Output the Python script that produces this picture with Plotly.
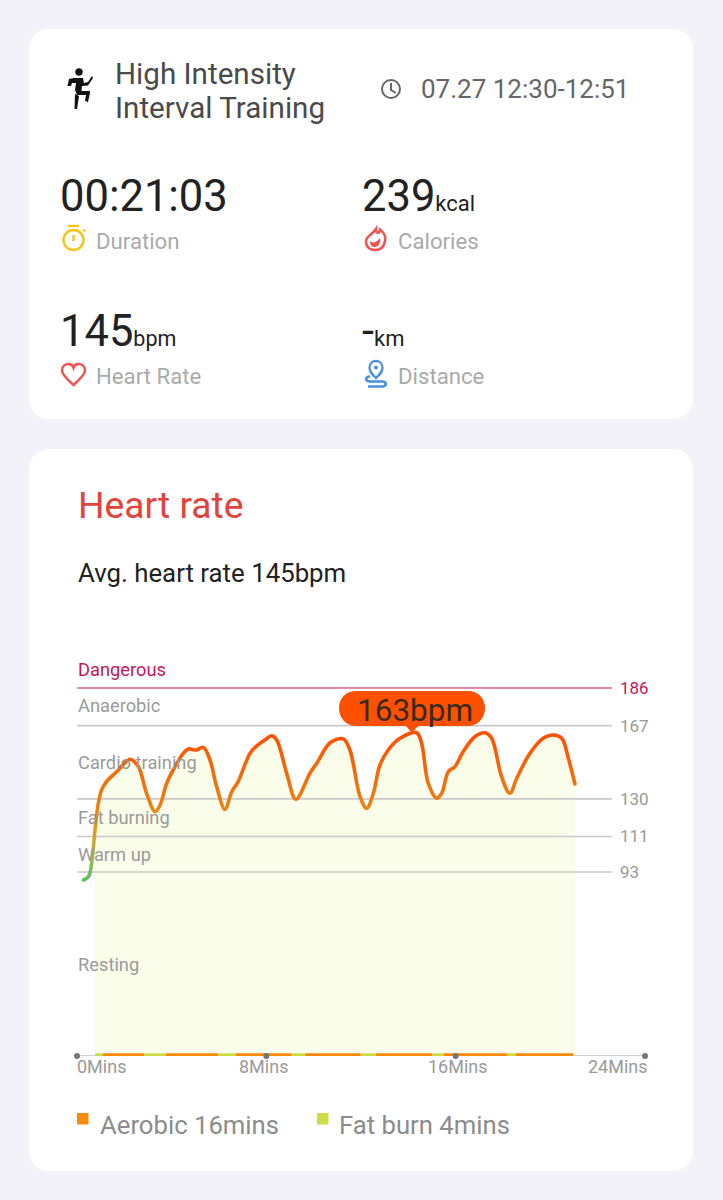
import plotly.graph_objects as go

W, H = 723, 1200

# ---- data ----
hr_minutes = [0.27, 0.48, 0.62, 0.76, 0.90, 1.04, 1.25, 1.68, 2.24, 2.59, 2.94, 3.30, 3.51, 3.79, 4.14, 4.49, 4.70, 5.03,
              5.34, 5.62, 5.90, 6.25, 6.54, 6.81, 7.31, 7.59, 7.94, 8.23, 8.44, 8.86, 9.25, 9.84, 10.13, 10.55, 10.76,
              11.25, 11.53, 11.96, 12.24, 12.52, 12.80, 13.15, 13.65, 14.35, 14.56, 14.84, 15.20, 15.41, 15.69, 15.97,
              16.32, 16.81, 17.24, 17.52, 17.94, 18.29, 18.58, 19.14, 19.70, 20.12, 20.48, 20.76, 21.04]
hr_bpm = [89, 90.6, 97.4, 114.3, 127.7, 134.5, 138.7, 143.7, 150, 146.3, 132.8, 123.5, 126.9, 137.9, 146.3, 153, 155.2,
          154.7, 156, 149.6, 136.2, 124.7, 133.6, 138.7, 153, 156.7, 159.8, 161.9, 159.8, 142.9, 129.8, 142.9, 148,
          156.4, 158.9, 160.3, 154.7, 131.1, 125.2, 132.8, 147.1, 154.7, 160.6, 163.4, 158.1, 137.9, 130.3, 132.8,
          143.7, 146.3, 153.9, 161.4, 163.4, 160.6, 141.2, 132.8, 140.4, 153, 160.6, 162.3, 160.6, 150.5, 137.5]
zone_values = [186, 167, 130, 111, 93]
zone_names = ["Dangerous", "Anaerobic", "Cardio training", "Fat burning", "Warm up", "Resting"]
zone_label_bpm = [195, 176.5, 148, 120, 101.5, 46]
x_ticks = [0, 8, 16, 24]
x_labels = ["0Mins", "8Mins", "16Mins", "24Mins"]
strip_edges = [0.77, 1.09, 2.84, 3.76, 5.97, 6.70, 9.07, 9.64, 11.99, 12.63, 15.01, 15.50, 18.19, 18.54, 20.97]
strip_kinds = ["Fat burn", "Aerobic"] * 7

# ---- styling ----
PAGE = "#f2f2f8"
DIN = "Roboto, sans-serif"
UI = "Roboto, sans-serif"
GREY = "#9a9a9a"
PINK = "#c2185b"


def px(x):
    return x / W


def py(y):
    return 1 - y / H


def pth(d):
    out = []
    for tok in d.split():
        if tok.isalpha():
            out.append(tok)
        else:
            a, b = tok.split(",")
            out.append(f"{px(float(a)):.5f},{py(float(b)):.5f}")
    return " ".join(out)


def card(x0, y0, x1, y1, r=20):
    k = r * 0.45
    d = (f"M {x0+r},{y0} L {x1-r},{y0} C {x1-k},{y0} {x1},{y0+k} {x1},{y0+r} L {x1},{y1-r} "
         f"C {x1},{y1-k} {x1-k},{y1} {x1-r},{y1} L {x0+r},{y1} C {x0+k},{y1} {x0},{y1-k} {x0},{y1-r} "
         f"L {x0},{y0+r} C {x0},{y0+k} {x0+k},{y0} {x0+r},{y0} Z")
    return dict(type="path", xref="paper", yref="paper", path=pth(d), fillcolor="white", line_width=0, layer="below")


def icon(d, fill="rgba(0,0,0,0)", stroke=None, w=2.4, layer="above"):
    return dict(type="path", xref="paper", yref="paper", path=pth(d), fillcolor=fill,
                line=dict(color=stroke or "rgba(0,0,0,0)", width=w if stroke else 0), layer=layer)


def ring(cx, cy, r):
    k = r * 0.5523
    return (f"M {cx-r},{cy} C {cx-r},{cy-k} {cx-k},{cy-r} {cx},{cy-r} C {cx+k},{cy-r} {cx+r},{cy-k} {cx+r},{cy} "
            f"C {cx+r},{cy+k} {cx+k},{cy+r} {cx},{cy+r} C {cx-k},{cy+r} {cx-r},{cy+k} {cx-r},{cy} Z")


def ann(x, y, text, size, color, anchor="left", font=UI):
    # plotly pads annotation boxes by about two pixels on the left
    return dict(xref="paper", yref="paper", x=px(x), y=py(y), text=text, showarrow=False, xanchor=anchor,
                yanchor="middle", font=dict(size=size, color=color, family=font), align="left",
                xshift=-2 if anchor == "left" else 0)


fig = go.Figure()

fig.add_trace(go.Scatter(x=hr_minutes[3:], y=hr_bpm[3:], mode="lines", line=dict(width=0, shape="spline", smoothing=1),
                         fill="tozeroy", fillcolor="#fbfdeb", hoverinfo="skip", showlegend=False))

for v in zone_values:
    fig.add_trace(go.Scatter(x=[0, 22.6], y=[v, v], mode="lines", showlegend=False,
                             line=dict(color="#e0608f" if v == 186 else "#c9c9c9", width=1.6)))

fig.add_trace(go.Scatter(x=[0, 24], y=[0, 0], mode="lines", line=dict(color="#c4c4c4", width=1.4), showlegend=False,
                         cliponaxis=False))

for i, kind in enumerate(strip_kinds):
    fig.add_trace(go.Scatter(x=strip_edges[i:i + 2], y=[0.6, 0.6], mode="lines", showlegend=False, cliponaxis=False,
                             line=dict(color="#cbdc45" if kind == "Fat burn" else "#f98a0c", width=3)))
fig.add_trace(go.Scatter(x=x_ticks, y=[0] * 4, mode="markers", marker=dict(color="#777777", size=6), showlegend=False,
                         cliponaxis=False))

fig.add_trace(go.Scatter(x=hr_minutes, y=hr_bpm, mode="lines", name="hr", showlegend=False,
                         line=dict(color="#ff6a00", width=3.6, shape="spline", smoothing=1)))

annotations = [
    ann(115, 74, "High Intensity", 29.6, "#4a4a4a"),
    ann(115, 108, "Interval Training", 29.6, "#4a4a4a"),
    ann(421, 89, "07.27 12:30-12:51", 26, "#666666"),
    ann(60, 196, "00:21:03", 43.5, "#222222"),
    ann(96, 241, "Duration", 22.2, "#aaaaaa"),
    ann(362, 196, '239<span style="font-size:22px">kcal</span>', 43.5, "#222222"),
    ann(398, 241, "Calories", 22.2, "#aaaaaa"),
    ann(60, 332, '145<span style="font-size:21.5px">bpm</span>', 43.5, "#222222"),
    ann(96, 376, "Heart Rate", 22.2, "#aaaaaa"),
    ann(362, 332, '-<span style="font-size:22px">km</span>', 43.5, "#222222"),
    ann(398, 376, "Distance", 22.2, "#aaaaaa"),
    ann(78, 505, "Heart rate", 37.2, "#e2433c"),
    ann(78, 573, "Avg. heart rate 145bpm", 25.8, "#222222"),
    ann(100, 1125, "Aerobic 16mins", 25.7, "#8c8c8c"),
    ann(339, 1125, "Fat burn 4mins", 25.7, "#8c8c8c"),
    ann(415, 710, "163bpm", 31.5, "#3a2a20", "center", DIN),
]
for name, b in zip(zone_names, zone_label_bpm):
    annotations.append(dict(xref="x", yref="y", x=0, y=b, text=name, showarrow=False, xanchor="left", yanchor="middle",
                            xshift=-1, yshift=1, font=dict(size=18.3, family=DIN, color=PINK if name == "Dangerous" else GREY)))
for v in zone_values:
    annotations.append(dict(xref="x", yref="y", x=22.9, y=v, text=str(v), showarrow=False, xanchor="left", yanchor="middle",
                            xshift=-1, font=dict(size=17, family=DIN, color=PINK if v == 186 else GREY)))
for t, lab, anc in zip(x_ticks, x_labels, ["left", "center", "center", "right"]):
    annotations.append(dict(xref="x", yref="y", x=t, y=0, text=lab, showarrow=False, xanchor=anc, yanchor="top", yshift=2,
                            xshift={0: -2, 8: -3, 16: 2, 24: 5}[t], font=dict(size=18, family=DIN, color=GREY)))

shapes = [
    card(29, 29, 693, 419),
    card(29, 449, 693, 1171),
    dict(type="path", xref="paper", yref="paper", fillcolor="#ff5000", line_width=0, layer="above",
         path=pth("M 356,691 L 468,691 C 478,691 485,698 485,708 C 485,718 478,726 468,726 L 418,726 L 412,733 L 406,726 "
                  "L 356,726 C 346,726 339,718 339,708 C 339,698 346,691 356,691 Z")),
    dict(type="rect", xref="paper", yref="paper", x0=px(77), x1=px(88.5), y0=py(1113), y1=py(1124.5),
         fillcolor="#f98a0c", line_width=0),
    dict(type="rect", xref="paper", yref="paper", x0=px(317), x1=px(328.5), y0=py(1113), y1=py(1124.5),
         fillcolor="#cbdc45", line_width=0),
    # clock
    icon(ring(391, 89, 9), stroke="#666666", w=2),
    icon("M 391,83 L 391,90 L 396,93", stroke="#666666", w=2),
    # stopwatch
    icon(ring(73.5, 240, 10), stroke="#f6c516", w=2.4),
    icon("M 68,226 L 79,226", stroke="#f6c516", w=2.4),
    icon("M 73.5,235 L 73.5,241", stroke="#f6c516", w=2.4),
    icon("M 83,229.5 L 85,231.5", stroke="#f6c516", w=2.2),
    # flame
    icon("M 376,229 C 376,234 380,234 380,229.5 C 385,233 386,238 385,241 C 384,247 380,250 375,250 C 370,250 366,247 366,241 "
         "C 366,236 372,235 376,229 Z", stroke="#ef5350", w=2.5),
    icon("M 370,241 C 373,244 377,242 380,238 C 381,243 378,247 375,247 C 372,247 370,245 370,241 Z", fill="#ef5350"),
    # heart
    icon("M 73.5,385 C 68,380 62,375 62,370.5 C 62,366 65.5,364 68.5,364 C 71,364 73,366 73.5,367.5 C 74,366 76,364 78.5,364 "
         "C 81.5,364 85,366 85,370.5 C 85,375 79,380 73.5,385 Z", stroke="#ef5350", w=2.5),
    # distance pin
    icon("M 376,378 C 372,374 369.5,372 369.5,367.5 C 369.5,363.5 372.5,361 376,361 C 379.5,361 382.5,363.5 382.5,367.5 "
         "C 382.5,372 380,374 376,378 Z", stroke="#4a90e2", w=2.3),
    icon(ring(376, 367.5, 2), fill="#4a90e2"),
    icon("M 370,376.5 C 365,376.5 365,381.5 370,381.5 L 382,381.5 C 387,381.5 387,386.5 382,386.5 L 368,386.5",
         stroke="#4a90e2", w=2.6),
    # runner
    icon(ring(79, 72, 3.8), fill="#111111"),
    icon("M 67.5,86 L 69,79 L 74,78 L 83,78 L 84,83 L 88,82 L 92,76 L 93,78 L 88,85.5 L 82,86 L 81.5,91 L 90,91 L 90,93 "
         "L 88,102 L 85,101 L 86,95 L 77,95 L 75,90 L 76,83 L 72,83 L 71,86 Z", fill="#111111"),
    icon("M 75,94 L 79,96 L 77,109 L 74.5,109 Z", fill="#111111"),
]

fig.update_layout(
    width=W, height=H, margin=dict(l=0, r=0, t=0, b=0), autosize=False, paper_bgcolor=PAGE,
    plot_bgcolor="rgba(0,0,0,0)", showlegend=False, shapes=shapes, annotations=annotations,
    xaxis=dict(domain=[77 / W, 645 / W], range=[0, 24], visible=False, fixedrange=True),
    yaxis=dict(domain=[1 - 1056 / H, 1 - 640 / H], range=[0, 210.3], visible=False, fixedrange=True),
)

post = """
document.documentElement.style.margin='0';
document.body.style.margin='0';
document.body.style.overflow='hidden';
document.body.style.background='%s';
var gd=document.getElementsByClassName('plotly-graph-div')[0];
var svg=gd.querySelector('.main-svg');
var ns='http://www.w3.org/2000/svg';
var g=document.createElementNS(ns,'linearGradient');
g.setAttribute('id','hrgrad');g.setAttribute('gradientUnits','userSpaceOnUse');
g.setAttribute('x1','0');g.setAttribute('x2','0');g.setAttribute('y1','880');g.setAttribute('y2','735');
[[0,'#58c25e'],[0.17,'#a9bb47'],[0.36,'#e39a20'],[0.55,'#ee7d10'],[1,'#ff4f00']].forEach(function(s){
 var e=document.createElementNS(ns,'stop');e.setAttribute('offset',s[0]);e.setAttribute('stop-color',s[1]);g.appendChild(e);});
var defs=document.createElementNS(ns,'defs');defs.appendChild(g);svg.insertBefore(defs,svg.firstChild);
var traces=gd.querySelectorAll('.scatterlayer .trace');
var p=traces[traces.length-1].querySelector('path.js-line');
if(p){
 var r=p.getScreenCTM();
 g.setAttribute('gradientTransform','translate(0,'+(-r.f)+')');
 p.style.stroke='url(#hrgrad)';p.style.strokeLinecap='round';}
""" % PAGE

fig.write_html("out.html", post_script=post, config={"displayModeBar": False, "responsive": False})
